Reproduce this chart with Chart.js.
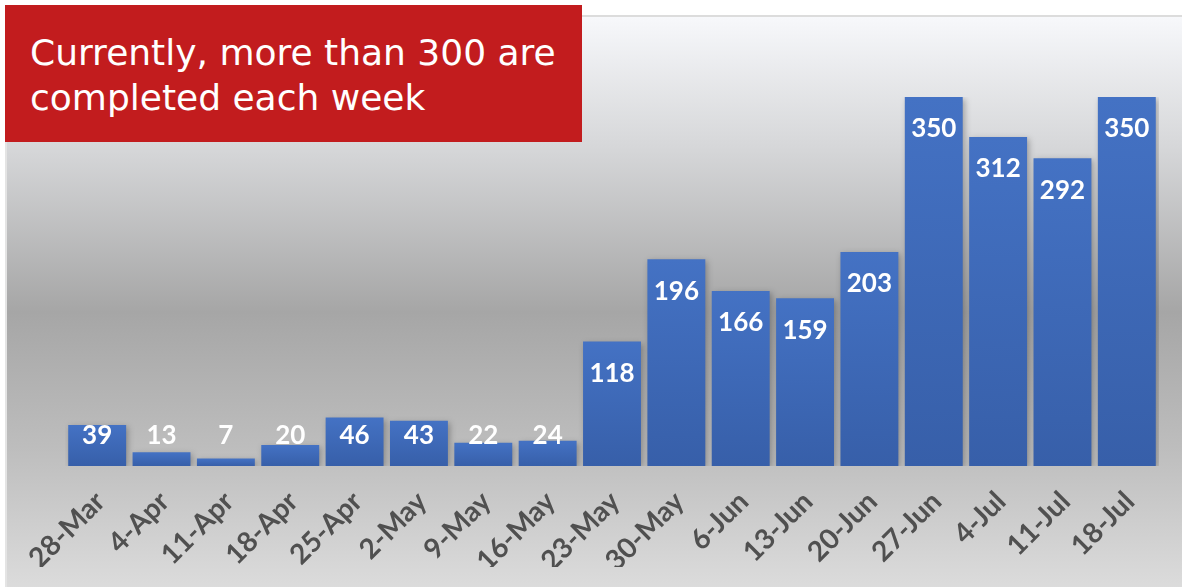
<!DOCTYPE html>
<html>
<head>
<meta charset="utf-8">
<script src="https://cdn.jsdelivr.net/npm/chart.js@4"></script>
<style>
    html, body { margin: 0; padding: 0; background: #ffffff; }
    body { width: 1182px; height: 587px; position: relative; overflow: hidden; }
    #panel {
        position: absolute; left: 5px; top: 15px; right: 0; bottom: 0;
        border-top: 2px solid #dcdcdc; border-left: 2px solid #e4e4e4;
        background: linear-gradient(to bottom, #f7f8fb 0px, #d6d7d9 130px, #a6a6a6 295px, #bdbdbd 430px, #dcdcdc 572px);
    }
    #wrap { position: absolute; left: 0; top: 0; width: 1182px; height: 587px; }
    #headline {
        position: absolute; left: 5px; top: 5px; width: 577px; height: 137px;
        background: #c21c1e; color: #ffffff; z-index: 2;
        font-family: "DejaVu Sans", sans-serif; font-size: 36px; line-height: 45px;
        box-sizing: border-box; padding: 25px 0 0 25px; white-space: nowrap;
    }
</style>
</head>
<body>
<div id="panel"></div>
<div id="headline">Currently, more than 300 are<br>completed each week</div>
<div id="wrap"><canvas id="chart"></canvas></div>
<script>
// Semanas y cantidades completadas
const weeks = ['28-Mar', '4-Apr', '11-Apr', '18-Apr', '25-Apr', '2-May', '9-May', '16-May',
    '23-May', '30-May', '6-Jun', '13-Jun', '20-Jun', '27-Jun', '4-Jul', '11-Jul', '18-Jul'];
const completed = [39, 13, 7, 20, 46, 43, 22, 24, 118, 196, 166, 159, 203, 350, 312, 292, 350];

const colors = {
    barTop: '#4472c4',
    barBottom: '#375fa9',
    label: '#ffffff',
    tick: '#505050'
};

// Degradado por barra, como el relleno de Excel
function barGradient(ctx) {
    const chart = ctx.chart;
    if (!chart.chartArea || ctx.type !== 'data') return colors.barTop;
    const y = chart.scales.y.getPixelForValue(ctx.raw);
    const base = chart.scales.y.getPixelForValue(0);
    const g = chart.ctx.createLinearGradient(0, y, 0, base);
    g.addColorStop(0, colors.barTop);
    g.addColorStop(1, colors.barBottom);
    return g;
}

// Sombra suave de las barras
const barShadow = {
    id: 'barShadow',
    beforeDatasetDraw(chart) {
        const c = chart.ctx;
        c.save();
        c.shadowColor = 'rgba(0,0,0,0.28)';
        c.shadowBlur = 6;
        c.shadowOffsetX = 2;
        c.shadowOffsetY = 2;
    },
    afterDatasetDraw(chart) {
        chart.ctx.restore();
    }
};

// Etiquetas de valor dentro del extremo superior
const valueLabels = {
    id: 'valueLabels',
    afterDatasetsDraw(chart) {
        const c = chart.ctx;
        const meta = chart.getDatasetMeta(0);
        c.save();
        c.fillStyle = colors.label;
        c.font = 'bold 26px Lato, sans-serif';
        c.textAlign = 'center';
        c.textBaseline = 'middle';
        meta.data.forEach((bar, i) => {
            const y = Math.min(bar.y + 32, bar.base - 30);
            c.fillText(String(completed[i]), bar.x, y);
        });
        c.restore();
    }
};

new Chart(document.getElementById('chart').getContext('2d'), {
    type: 'bar',
    data: {
        labels: weeks,
        datasets: [{
            data: completed,
            backgroundColor: barGradient,
            borderWidth: 0,
            categoryPercentage: 1,
            barPercentage: 0.9
        }]
    },
    options: {
        responsive: true,
        maintainAspectRatio: false,
        animation: false,
        layout: {
            padding: { left: 65, right: 23, top: 97, bottom: 20 }
        },
        plugins: {
            legend: { display: false },
            tooltip: { enabled: false }
        },
        scales: {
            x: {
                grid: { display: false, drawTicks: false },
                border: { display: false },
                afterFit(scale) {
                    scale.height = 101;
                },
                ticks: {
                    color: colors.tick,
                    font: { family: 'Lato, sans-serif', size: 28, weight: 'bold' },
                    minRotation: 45,
                    maxRotation: 45,
                    autoSkip: false,
                    padding: 19,
                    labelOffset: 3
                }
            },
            y: {
                display: false,
                min: 0,
                max: 350
            }
        }
    },
    plugins: [barShadow, valueLabels]
});
</script>
</body>
</html>
